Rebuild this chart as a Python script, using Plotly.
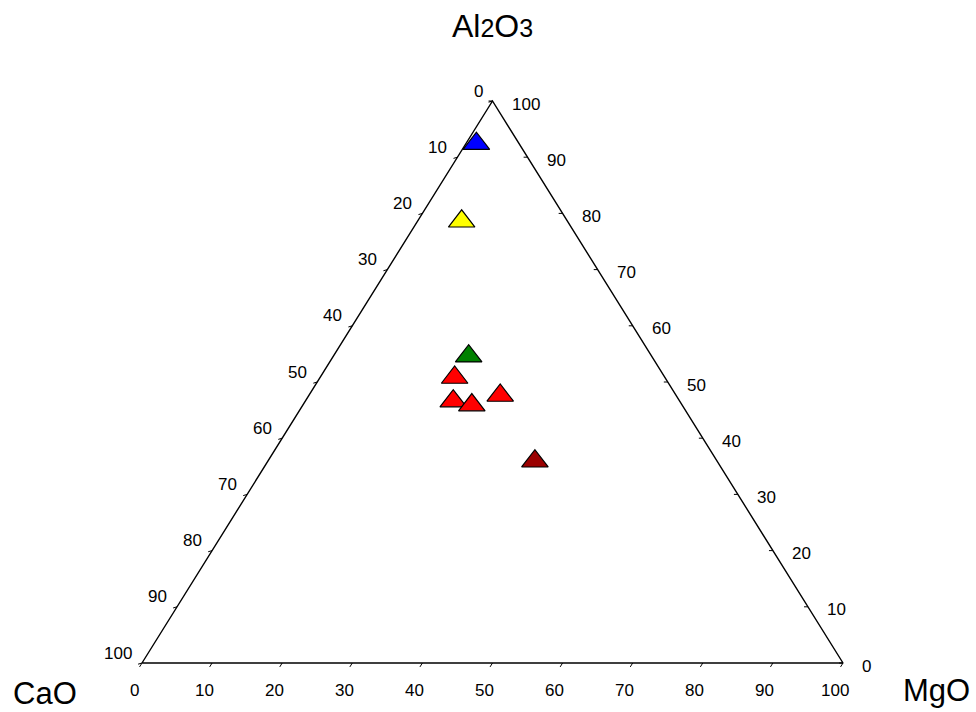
import plotly.graph_objects as go

# Oxide compositions (wt %) of the samples
al2o3 = [92.4, 78.6, 54.6, 50.8, 46.6, 45.9, 47.6, 35.9]
cao = [6.1, 15.1, 26.1, 30.0, 32.3, 30.0, 25.1, 26.0]
mgo = [1.5, 6.3, 19.3, 19.2, 21.1, 24.1, 27.3, 38.1]
marker_colors = ["#0000FF", "#FFFF00", "#008000", "#FF0000",
                 "#FF0000", "#FF0000", "#FF0000", "#9B0000"]

tick_values = list(range(0, 101, 10))

# Page geometry (pixels) of the triangle inside the 976x712 figure
W, H = 976, 712
LEFT_PX, RIGHT_PX = 142, 843
BASE_PY, APEX_PY = 663, 101

FONT = "Liberation Sans, Arial, sans-serif"


def to_xy(al, ca, mg):
    """Ternary composition -> cartesian (0..100 along base, 0..100 height)."""
    s = al + ca + mg
    return (mg + al / 2.0) / s * 100.0, al / s * 100.0


ux = 100.0 / (RIGHT_PX - LEFT_PX)
uy = 100.0 / (BASE_PY - APEX_PY)
x_range = [-LEFT_PX * ux, (W - LEFT_PX) * ux]
y_range = [-(H - BASE_PY) * uy, BASE_PY * uy]

fig = go.Figure()

# Triangle outline through the three pure-oxide corners
corners = [(0, 100, 0), (0, 0, 100), (100, 0, 0), (0, 100, 0)]
cx, cy = zip(*[to_xy(*c) for c in corners])
fig.add_trace(go.Scatter(x=list(cx), y=list(cy), mode="lines",
                         line=dict(color="black", width=1.4),
                         hoverinfo="skip", showlegend=False))

# Tick marks on the three edges
tx, ty = [], []
d = 0.7
for v in tick_values:
    # bottom edge: MgO
    x0, y0 = to_xy(0, 100 - v, v)
    tx += [x0, x0 - d * 0.5, None]
    ty += [y0, y0 - d, None]
    # left edge: CaO
    x0, y0 = to_xy(100 - v, v, 0)
    tx += [x0, x0 - d * 0.8, None]
    ty += [y0, y0 - d * 0.3, None]
    # right edge: Al2O3
    x0, y0 = to_xy(v, 0, 100 - v)
    tx += [x0, x0 - d * 0.8, None]
    ty += [y0, y0, None]
fig.add_trace(go.Scatter(x=tx, y=ty, mode="lines",
                         line=dict(color="black", width=1),
                         hoverinfo="skip", showlegend=False))

# Sample points
px, py = zip(*[to_xy(a, c, m) for a, c, m in zip(al2o3, cao, mgo)])
fig.add_trace(go.Scatter(
    x=list(px), y=list(py), mode="markers",
    marker=dict(symbol="triangle-up", size=23, color=marker_colors,
                line=dict(color="black", width=1.2)),
    customdata=list(zip(al2o3, cao, mgo)),
    hovertemplate="Al2O3 %{customdata[0]}<br>CaO %{customdata[1]}"
                  "<br>MgO %{customdata[2]}<extra></extra>",
    showlegend=False))

annotations = []
tick_font = dict(family=FONT, size=17, color="black")
for v in tick_values:
    # CaO labels along the left edge
    x0, y0 = to_xy(100 - v, v, 0)
    annotations.append(dict(x=x0, y=y0, text=str(v), showarrow=False,
                            xanchor="right", yanchor="middle",
                            xshift=-8, yshift=10, font=tick_font))
    # MgO labels along the base
    x0, y0 = to_xy(0, 100 - v, v)
    annotations.append(dict(x=x0, y=y0, text=str(v), showarrow=False,
                            xanchor="center", yanchor="middle",
                            xshift=-8, yshift=-27, font=tick_font))
    # Al2O3 labels along the right edge
    x0, y0 = to_xy(v, 0, 100 - v)
    annotations.append(dict(x=x0, y=y0, text=str(v), showarrow=False,
                            xanchor="left", yanchor="middle",
                            xshift=17, yshift=-3, font=tick_font))

title_font = dict(family=FONT, size=31, color="black")
ax, ay = to_xy(100, 0, 0)
annotations.append(dict(
    x=ax, y=ay, showarrow=False, xanchor="center", yanchor="middle",
    yshift=75, font=dict(family=FONT, size=32, color="black"),
    text="Al<span style='font-size:25px'>2</span>O"
         "<span style='font-size:25px'>3</span>"))
bx, by = to_xy(0, 100, 0)
annotations.append(dict(x=bx, y=by, text="CaO", showarrow=False,
                        xanchor="center", yanchor="middle",
                        xshift=-97, yshift=-30, font=title_font))
rx, ry = to_xy(0, 0, 100)
annotations.append(dict(x=rx, y=ry, text="MgO", showarrow=False,
                        xanchor="center", yanchor="middle",
                        xshift=93, yshift=-27, font=title_font))

fig.update_layout(
    width=W, height=H, autosize=False,
    margin=dict(l=0, r=0, t=0, b=0),
    paper_bgcolor="white", plot_bgcolor="white",
    xaxis=dict(range=x_range, visible=False, fixedrange=True),
    yaxis=dict(range=y_range, visible=False, fixedrange=True),
    annotations=annotations,
    showlegend=False,
)

fig.write_html("out.html")
